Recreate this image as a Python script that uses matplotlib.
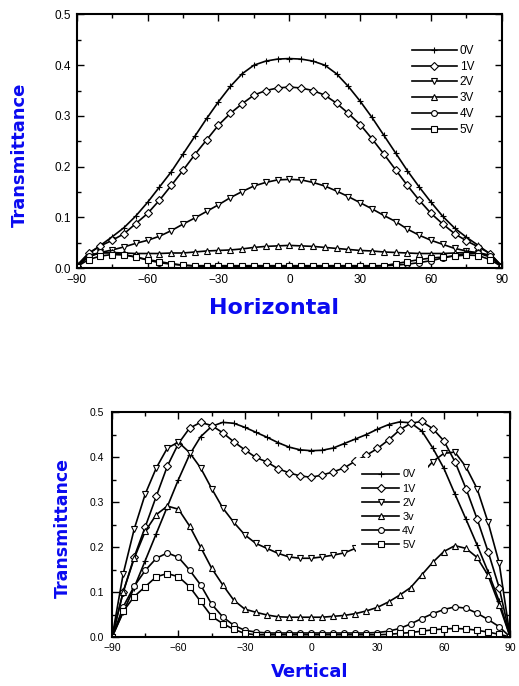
import numpy as np
import matplotlib.pyplot as plt
from matplotlib.patches import Rectangle
from matplotlib.ticker import MultipleLocator, FormatStrFormatter

# angle grid (degrees), same for both panels
angles = np.arange(-90, 91, 5)

# --- Horizontal scan ---
h_0v = [0.005, 0.028, 0.045, 0.062, 0.080, 0.103, 0.130, 0.160, 0.190, 0.225,
        0.260, 0.295, 0.328, 0.358, 0.383, 0.400, 0.408, 0.412, 0.413, 0.412,
        0.408, 0.400, 0.383, 0.358, 0.329, 0.297, 0.262, 0.227, 0.192, 0.160,
        0.130, 0.102, 0.079, 0.061, 0.045, 0.028, 0.004]
h_1v = [0.005, 0.030, 0.044, 0.055, 0.068, 0.088, 0.108, 0.134, 0.163, 0.193,
        0.224, 0.253, 0.282, 0.305, 0.324, 0.341, 0.350, 0.355, 0.357, 0.355,
        0.350, 0.341, 0.325, 0.305, 0.283, 0.255, 0.225, 0.194, 0.163, 0.134,
        0.108, 0.087, 0.068, 0.054, 0.042, 0.029, 0.004]
h_2v = [0.004, 0.022, 0.031, 0.036, 0.042, 0.049, 0.055, 0.063, 0.074, 0.087,
        0.099, 0.112, 0.125, 0.139, 0.151, 0.162, 0.169, 0.174, 0.175, 0.174,
        0.169, 0.162, 0.152, 0.141, 0.129, 0.117, 0.104, 0.092, 0.077, 0.065,
        0.055, 0.047, 0.039, 0.034, 0.030, 0.022, 0.004]
h_3v = [0.004, 0.025, 0.030, 0.031, 0.030, 0.029, 0.029, 0.029, 0.030, 0.030,
        0.032, 0.034, 0.035, 0.036, 0.038, 0.041, 0.043, 0.044, 0.045, 0.044,
        0.043, 0.041, 0.039, 0.037, 0.035, 0.034, 0.032, 0.031, 0.030, 0.029,
        0.029, 0.029, 0.030, 0.031, 0.031, 0.025, 0.004]
h_4v = [0.003, 0.025, 0.031, 0.030, 0.027, 0.022, 0.016, 0.011, 0.008, 0.006,
        0.005, 0.005, 0.005, 0.005, 0.005, 0.005, 0.005, 0.005, 0.005, 0.005,
        0.005, 0.005, 0.005, 0.005, 0.005, 0.005, 0.005, 0.006, 0.008, 0.011,
        0.015, 0.020, 0.025, 0.029, 0.030, 0.025, 0.003]
h_5v = [0.003, 0.017, 0.024, 0.027, 0.026, 0.022, 0.017, 0.013, 0.009, 0.006,
        0.004, 0.004, 0.004, 0.004, 0.004, 0.004, 0.004, 0.004, 0.004, 0.004,
        0.004, 0.004, 0.004, 0.004, 0.004, 0.004, 0.005, 0.009, 0.013, 0.017,
        0.020, 0.022, 0.024, 0.026, 0.025, 0.017, 0.003]

# --- Vertical scan ---
v_0v = [0.0, 0.055, 0.110, 0.170, 0.230, 0.290, 0.350, 0.405, 0.445, 0.468,
        0.477, 0.475, 0.466, 0.455, 0.444, 0.432, 0.422, 0.416, 0.414, 0.415,
        0.420, 0.430, 0.440, 0.450, 0.462, 0.472, 0.478, 0.476, 0.458, 0.420,
        0.375, 0.318, 0.262, 0.205, 0.145, 0.080, 0.0]
v_1v = [0.0, 0.100, 0.178, 0.245, 0.313, 0.380, 0.430, 0.464, 0.477, 0.470,
        0.454, 0.434, 0.416, 0.399, 0.389, 0.374, 0.365, 0.358, 0.355, 0.360,
        0.367, 0.376, 0.391, 0.404, 0.419, 0.438, 0.460, 0.475, 0.479, 0.463,
        0.436, 0.390, 0.330, 0.263, 0.190, 0.110, 0.0]
v_2v = [0.0, 0.140, 0.240, 0.318, 0.376, 0.420, 0.433, 0.410, 0.376, 0.330,
        0.287, 0.255, 0.227, 0.208, 0.197, 0.186, 0.178, 0.175, 0.175, 0.178,
        0.182, 0.187, 0.197, 0.213, 0.235, 0.262, 0.295, 0.330, 0.362, 0.390,
        0.408, 0.411, 0.378, 0.330, 0.255, 0.165, 0.0]
v_3v = [0.0, 0.100, 0.175, 0.235, 0.272, 0.291, 0.284, 0.247, 0.200, 0.153,
        0.116, 0.082, 0.062, 0.055, 0.049, 0.045, 0.044, 0.044, 0.044, 0.044,
        0.046, 0.048, 0.052, 0.058, 0.066, 0.078, 0.093, 0.110, 0.138, 0.166,
        0.190, 0.203, 0.197, 0.177, 0.137, 0.072, 0.0]
v_4v = [0.0, 0.067, 0.113, 0.148, 0.175, 0.187, 0.177, 0.149, 0.116, 0.073,
        0.045, 0.026, 0.015, 0.011, 0.009, 0.009, 0.009, 0.009, 0.009, 0.009,
        0.009, 0.009, 0.009, 0.009, 0.010, 0.013, 0.019, 0.029, 0.041, 0.052,
        0.061, 0.067, 0.064, 0.053, 0.039, 0.023, 0.0]
v_5v = [0.0, 0.057, 0.090, 0.112, 0.134, 0.141, 0.134, 0.112, 0.079, 0.046,
        0.030, 0.017, 0.008, 0.005, 0.005, 0.005, 0.005, 0.005, 0.005, 0.005,
        0.005, 0.005, 0.005, 0.005, 0.005, 0.006, 0.008, 0.010, 0.013, 0.016,
        0.018, 0.019, 0.018, 0.015, 0.011, 0.006, 0.0]

labels_h = ["0V", "1V", "2V", "3V", "4V", "5V"]
labels_v = ["0V", "1V", "2V", "3v", "4V", "5V"]
markers = ["+", "D", "v", "^", "o", "s"]
marker_sizes = [5, 3.8, 4.6, 4.6, 4.2, 3.8]

BLUE = "#0a0af0"
TICK_FONT = "Liberation Sans"


def style_axes(ax, tick_size, ypad):
    ax.set_xlim(-90, 90)
    ax.set_ylim(0, 0.5)
    ax.xaxis.set_major_locator(MultipleLocator(30))
    ax.xaxis.set_minor_locator(MultipleLocator(15))
    ax.yaxis.set_major_locator(MultipleLocator(0.1))
    ax.yaxis.set_minor_locator(MultipleLocator(0.05))
    ax.yaxis.set_major_formatter(FormatStrFormatter("%.1f"))
    ax.tick_params(which="both", direction="in", top=True, right=True,
                   width=1.0, labelsize=tick_size)
    ax.tick_params(which="major", length=5)
    ax.tick_params(which="minor", length=3)
    ax.tick_params(axis="x", pad=4.5)
    ax.tick_params(axis="y", pad=ypad)
    for lab in ax.get_xticklabels() + ax.get_yticklabels():
        lab.set_family(TICK_FONT)
    for sp in ax.spines.values():
        sp.set_linewidth(1.5)


def draw_series(ax, series, labels):
    for vals, lab, mk, ms in zip(series, labels, markers, marker_sizes):
        ax.plot(angles, vals, color="black", lw=1.2, marker=mk, ms=ms,
                mfc="white", mec="black", mew=0.8, label=lab)


fig = plt.figure(figsize=(5.19, 6.86), dpi=100)

# top panel
ax1 = fig.add_axes([0.148, 0.609, 0.819, 0.370])
draw_series(ax1, [h_0v, h_1v, h_2v, h_3v, h_4v, h_5v], labels_h)
style_axes(ax1, 8.5, 4.5)
ax1.legend(loc="upper left", bbox_to_anchor=(0.788, 0.88), frameon=False,
           prop={"family": TICK_FONT, "size": 8.5}, handlelength=3.8,
           handletextpad=0.25, labelspacing=0.32, borderpad=0, borderaxespad=0)
ax1.set_xlabel("Horizontal", fontsize=16, fontweight="bold", color=BLUE)
ax1.set_ylabel("Transmittance", fontsize=13, fontweight="bold", color=BLUE)
ax1.xaxis.label.set_va("center")
ax1.yaxis.label.set_va("center")
ax1.xaxis.set_label_coords(0.4635, -0.158)
ax1.yaxis.set_label_coords(-0.134, 0.445)

# bottom panel
ax2 = fig.add_axes([0.216, 0.0714, 0.767, 0.328])
draw_series(ax2, [v_0v, v_1v, v_2v, v_3v, v_4v, v_5v], labels_v)
style_axes(ax2, 7.5, 6)
# opaque legend area hides the curves behind it
ax2.add_patch(Rectangle((0.613, 0.37), 0.18, 0.424, transform=ax2.transAxes,
                        facecolor="white", edgecolor="none", zorder=2.5))
ax2.legend(loc="upper left", bbox_to_anchor=(0.628, 0.745), frameon=False,
           prop={"family": TICK_FONT, "size": 7.8}, handlelength=3.4,
           handletextpad=0.3, labelspacing=0.38, borderpad=0, borderaxespad=0)
ax2.set_xlabel("Vertical", fontsize=13, fontweight="bold", color=BLUE)
ax2.set_ylabel("Transmittance", fontsize=12.5, fontweight="bold", color=BLUE)
ax2.xaxis.label.set_va("center")
ax2.yaxis.label.set_va("center")
ax2.xaxis.set_label_coords(0.497, -0.156)
ax2.yaxis.set_label_coords(-0.123, 0.484)

fig.savefig("out.png", dpi=100)
